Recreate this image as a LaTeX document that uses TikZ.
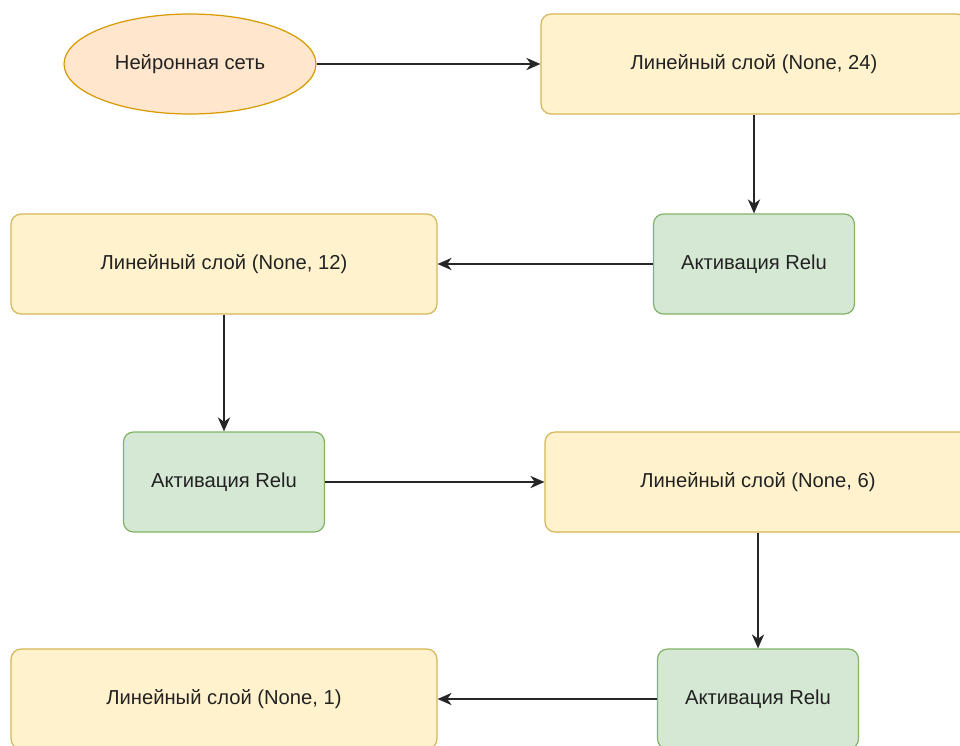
\documentclass[tikz,border=0pt]{standalone}
\usepackage{fontspec}
\setmainfont{Liberation Sans}
\usetikzlibrary{shapes.geometric,arrows.meta}

\definecolor{netfill}{HTML}{FFE6CC}
\definecolor{netline}{HTML}{D79B00}
\definecolor{layerfill}{HTML}{FFF2CC}
\definecolor{layerline}{HTML}{D6B656}
\definecolor{relufill}{HTML}{D5E8D4}
\definecolor{reluline}{HTML}{82B366}
\definecolor{labeltext}{HTML}{222222}

\begin{document}
\begin{tikzpicture}[x=0.02cm, y=-0.02cm,
    every node/.style={font=\fontsize{11.5}{14}\selectfont, text=labeltext},
    layer/.style={draw=layerline, fill=layerfill, line width=0.7pt, rounded corners=0.2cm, minimum width=8.52cm, minimum height=2cm},
    relu/.style={draw=reluline, fill=relufill, line width=0.7pt, rounded corners=0.2cm, minimum width=4.02cm, minimum height=2cm},
    flow/.style={-{Stealth[length=8pt, width=7pt, inset=2.5pt]}, line width=0.8pt, black!85}]
    \path[use as bounding box, clip] (0,0) rectangle (960,745);
    % network input
    \node[ellipse, draw=netline, fill=netfill, line width=0.7pt, minimum width=5.04cm, minimum height=2cm] (net) at (190,64) {Нейронная сеть};
    % dense layers and activations
    \node[layer] (dense1) at (754,64) {Линейный слой (None, 24)};
    \node[relu] (relu1) at (754,264) {Активация Relu};
    \node[layer] (dense2) at (224,264) {Линейный слой (None, 12)};
    \node[relu] (relu2) at (224,482) {Активация Relu};
    \node[layer] (dense3) at (758,482) {Линейный слой (None, 6)};
    \node[relu] (relu3) at (758,699) {Активация Relu};
    \node[layer] (dense4) at (224,699) {Линейный слой (None, 1)};
    \draw[flow] (net) -- (dense1);
    \draw[flow] (dense1.south -| relu1) -- (relu1);
    \draw[flow] (relu1) -- (dense2);
    \draw[flow] (dense2) -- (relu2);
    \draw[flow] (relu2) -- (relu2 -| dense3.west);
    \draw[flow] (dense3.south -| relu3) -- (relu3);
    \draw[flow] (relu3) -- (dense4);
\end{tikzpicture}
\end{document}
